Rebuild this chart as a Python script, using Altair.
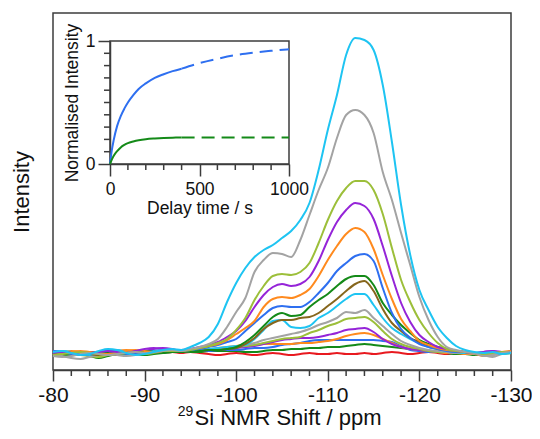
import altair as alt
import pandas as pd

# ---------------- data ----------------
ppm = list(range(-80, -131, -1))  # 51 points, -80 ... -130 ppm

s01 = [-1, -2, -1, 0, 1, 0, -1, -2, -1, 0, 1, 0, 0, 1,
       0, 1, 0, -1, -2, -1, 0, -1, -2, -1, 0, -1, -2, -1, 0, -1, -1, 0, -1, -1, 0, -1, 0, 1, 0, -1, 0, 1, 0, -1, 0, 0, -1,
       0, -1, 0, 1]
s02 = [-2, -3, -2, -1, -3, -5, -3, -1, 0, -1, -2, -1, 0, 1,
       1, 1, 1, 2, 2, 2, 2, 1, 1, 2, 3, 3, 4, 4, 5, 5, 6, 6, 7, 8, 9, 8, 7, 6, 5, 4, 3, 2, 1, 0, -1, -1, -2,
       -2, -1, 0, 1]
s03 = [1, 0, -1, -2, -1, 0, 1, 0, -1, 0, 1, 2, 1, 1,
       1, 2, 2, 2, 3, 3, 3, 4, 5, 5, 6, 8, 9, 10, 12, 13, 13, 13, 13, 13, 13, 13, 12, 11, 7, 3, 2, 1, 1, 0, 0, 0, -1,
       -1, 0, 1, 0]
s04 = [0, 1, 2, 1, 0, -1, 0, 2, 3, 2, 0, 1, 3, 2,
       2, 3, 4, 4, 5, 6, 7, 8, 8, 9, 9, 9, 9, 10, 10, 11, 12, 14, 17, 19, 20, 18, 14, 10, 6, 4, 3, 2, 1, 0, 0, -1, -1,
       -3, -2, 0, 1]
s05 = [2, 1, 0, -1, -2, -1, 0, 1, 0, 1, 2, 4, 5, 4,
       2, 2, 3, 3, 3, 4, 5, 6, 7, 9, 11, 13, 14, 15, 15, 16, 18, 20, 23, 24, 25, 21, 14, 9, 6, 4, 3, 2, 1, 1, 0, 0, 0,
       1, 2, 1, 0]
s06 = [-3, -2, -1, -2, -3, -4, -2, 0, 1, 0, -1, 0, 1, 2,
       2, 2, 3, 3, 4, 5, 6, 7, 8, 10, 12, 14, 15, 16, 20, 23, 27, 30, 34, 35, 36, 31, 22, 14, 9, 6, 4, 2, 1, 1, 0, 0, 0,
       0, -1, -1, 0]
s07 = [-1, -3, -5, -6, -4, -2, -1, -2, -3, -2, 0, 1, 0, 1,
       2, 2, 3, 3, 4, 5, 6, 8, 10, 13, 15, 17, 19, 21, 24, 28, 31, 35, 41, 40, 43, 35, 27, 19, 12, 8, 5, 3, 2, 1, 0, 0, -1,
       -2, -4, -1, 0]
s08 = [0, 2, 1, -1, -2, 0, 2, 3, 1, -1, 0, 2, 3, 2,
       2, 2, 3, 4, 5, 6, 7, 8, 14, 23, 32, 33, 26, 25, 27, 35, 40, 47, 54, 59, 59, 48, 35, 25, 19, 14, 10, 6, 4, 2, 1, 0, 0,
       1, 0, -1, 1]
s09 = [-1, 0, 1, 0, -1, -2, -1, 0, 1, 1, 0, 1, 2, 1,
       1, 2, 2, 3, 3, 4, 5, 9, 15, 24, 30, 33, 33, 35, 36, 40, 47, 54, 62, 69, 72, 62, 44, 30, 22, 15, 11, 7, 4, 3, 2, 1, 0,
       0, 1, 0, 2]
s10 = [0, -1, -2, -1, 0, 1, 0, -1, 0, 1, 2, 1, 0, 1,
       1, 2, 2, 3, 3, 4, 6, 11, 18, 27, 36, 40, 37, 38, 46, 53, 59, 67, 74, 77, 77, 68, 50, 38, 28, 20, 13, 9, 6, 4, 2, 1, 0,
       -1, 0, 1, 1]
s11 = [2, 1, -1, -2, -1, 1, 2, 1, 0, -1, 0, 1, 2, 2,
       2, 3, 4, 6, 8, 11, 14, 22, 30, 38, 45, 47, 46, 46, 51, 60, 70, 82, 90, 97, 99, 92, 65, 40, 24, 15, 9, 6, 4, 2, 1, 1, 0,
       0, -1, 0, 1]
s12 = [1, 0, 1, 2, 1, 0, -1, 0, 2, 3, 2, 1, 2, 3,
       3, 4, 5, 7, 9, 13, 19, 25, 32, 46, 54, 56, 55, 58, 64, 77, 93, 107, 119, 125, 121, 104, 78, 54, 34, 22, 12, 8, 5, 3, 2, 1, 0,
       -2, -1, 1, 2]
s13 = [0, 1, 0, -1, 0, 1, 2, 1, 0, 2, 4, 5, 4, 3,
       3, 4, 6, 8, 11, 16, 22, 32, 46, 58, 66, 69, 67, 69, 76, 92, 113, 131, 143, 150, 147, 134, 107, 77, 50, 31, 18, 11, 6, 4, 2, 1, 0,
       1, 2, 0, 1]
s14 = [-2, -1, 0, 1, 0, -1, -2, -1, 0, 1, 0, 1, 2, 2,
       2, 3, 5, 7, 10, 14, 23, 35, 53, 67, 77, 79, 78, 81, 90, 110, 133, 152, 165, 172, 172, 163, 139, 105, 73, 51, 33, 20, 10, 4, 2, 1, 0,
       -1, 0, 1, 0]
s15 = [-3, -4, -3, -1, 0, -1, -2, -1, 0, 1, 0, 1, 2, 3,
       2, 4, 6, 9, 14, 26, 41, 55, 81, 93, 100, 99, 96, 113, 138, 163, 185, 215, 238, 243, 238, 220, 181, 153, 120, 88, 56, 33, 16, 6, 3, 1, 0,
       -3, -2, 0, 1]
s16 = [1, 2, 0, -2, -1, 2, 4, 3, 0, -2, -1, 1, 3, 4,
       3, 6, 10, 16, 29, 51, 70, 85, 96, 103, 108, 115, 122, 133, 150, 183, 223, 258, 298, 315, 313, 303, 268, 211, 148, 98, 63, 43, 26, 15, 7, 3, 1,
       0, 1, -1, 0]

series_names = ["s01", "s02", "s03", "s04", "s05", "s06", "s07", "s08",
                "s09", "s10", "s11", "s12", "s13", "s14", "s15", "s16"]
series_values = [s01, s02, s03, s04, s05, s06, s07, s08,
                 s09, s10, s11, s12, s13, s14, s15, s16]
series_colors = ["#e8191f", "#148a18", "#2e6ff0", "#ff8a1e", "#9524d8", "#9cbf3a",
                 "#a3a3a3", "#1ec4f2", "#86661c", "#148a18", "#2e6ff0", "#ff8a1e",
                 "#9524d8", "#9cbf3a", "#a3a3a3", "#1ec4f2"]

major_ticks = [-80, -90, -100, -110, -120, -130]
minor_ticks = [-82, -84, -86, -88, -92, -94, -96, -98, -102, -104, -106, -108,
               -112, -114, -116, -118, -122, -124, -126, -128]

# inset: normalised intensity vs delay time
t_solid = [0, 10, 20, 40, 60, 80, 100, 130, 160, 200, 250, 300, 350, 400]
blue_solid = [0, 0.11, 0.19, 0.31, 0.39, 0.45, 0.50, 0.56, 0.61, 0.655, 0.70, 0.73, 0.755, 0.775]
green_solid = [0, 0.035, 0.065, 0.105, 0.135, 0.155, 0.17, 0.183, 0.193, 0.202, 0.208, 0.212, 0.214, 0.215]
t_dash = [400, 500, 600, 700, 800, 900, 1000]
blue_dash = [0.775, 0.82, 0.855, 0.885, 0.905, 0.92, 0.933]
green_dash = [0.215, 0.215, 0.215, 0.215, 0.215, 0.215, 0.215]
inset_major_x = [0, 500, 1000]
inset_minor_x = [100, 200, 300, 400, 600, 700, 800, 900]
inset_major_y = [0, 1]
inset_minor_y = [0.1, 0.2, 0.3, 0.4, 0.5, 0.6, 0.7, 0.8, 0.9]
inset_frame = {"t": [0], "t2": [1000], "v": [0], "v2": [1]}

x_title_sup = "29"
x_title_main = "Si NMR Shift / ppm"
y_title = "Intensity"

# ---------------- layout constants ----------------
W, H = 458, 357
AX = "#3c3c3c"
TXT = "#111111"
FONT = "Liberation Sans"
IX0, IX1 = 57, 236      # inset x pixel range inside the plot
IY0, IY1 = 151, 28      # inset y pixel range inside the plot

rows = []
for i, (name, vals) in enumerate(zip(series_names, series_values)):
    assert len(vals) == len(ppm), name
    for p, v in zip(ppm, vals):
        rows.append({"ppm": p, "intensity": v, "series": name, "k": i})
spec_df = pd.DataFrame(rows)

x_scale = alt.Scale(domain=[-130, -80], reverse=True, nice=False, zero=False)
y_scale = alt.Scale(domain=[-17, 340], nice=False, zero=False)
x_axis = alt.Axis(orient="bottom", values=major_ticks, tickSize=11, tickWidth=1.5, tickColor=AX,
                  domainColor=AX, domainWidth=1.5, labelFontSize=21, labelColor=TXT,
                  labelPadding=3, labelFlush=False, labelExpr="toString(datum.value)",
                  title=None, grid=False)
y_axis = alt.Axis(orient="left", labels=False, ticks=False, domain=False, grid=False,
                  title=y_title, titleFontSize=22, titleFontWeight="normal", titleColor=TXT,
                  titlePadding=20)

spectra = alt.Chart(spec_df).mark_line(strokeWidth=2, interpolate="monotone").encode(
    x=alt.X("ppm:Q", scale=x_scale, axis=x_axis),
    y=alt.Y("intensity:Q", scale=y_scale, axis=y_axis),
    color=alt.Color("series:N", scale=alt.Scale(domain=series_names, range=series_colors), legend=None),
    order=alt.Order("k:Q"),
)

minor_main = alt.Chart(pd.DataFrame({"ppm": minor_ticks})).mark_rule(color=AX, strokeWidth=1.5).encode(
    x=alt.X("ppm:Q", scale=x_scale, axis=x_axis),
    y=alt.value(H), y2=alt.value(H + 6),
)

title_sup = alt.Chart(pd.DataFrame({"s": [x_title_sup]})).mark_text(
    fontSize=14, font=FONT, color=TXT, align="right", baseline="alphabetic").encode(
    text="s:N", x=alt.value(140.3), y=alt.value(403.2))
title_main = alt.Chart(pd.DataFrame({"s": [x_title_main]})).mark_text(
    fontSize=22, font=FONT, color=TXT, align="left", baseline="alphabetic").encode(
    text="s:N", x=alt.value(141.5), y=alt.value(412))

main_layer = alt.layer(spectra, minor_main, title_sup, title_main)

# ---------------- inset ----------------
ix_scale = alt.Scale(domain=[0, 1000], range=[IX0, IX1], nice=False, zero=False)
iy_scale = alt.Scale(domain=[0, 1], range=[IY0, IY1], nice=False, zero=False)
ix_axis = alt.Axis(orient="bottom", offset=IY0 - H, values=inset_major_x, format="d", tickSize=12,
                   tickWidth=1.5, tickColor=AX, domainColor=AX, domainWidth=1.5,
                   labelFontSize=17.5, labelColor=TXT, labelPadding=4, labelFlush=False, grid=False,
                   title="Delay time / s", titleFontSize=17.5, titleFontWeight="normal",
                   titleColor=TXT, titlePadding=2)
iy_axis = alt.Axis(orient="left", offset=-IX0, values=inset_major_y, format="d", tickSize=12,
                   tickWidth=1.5, tickColor=AX, domainColor=AX, domainWidth=1.5,
                   labelFontSize=17.5, labelColor=TXT, labelPadding=3, labelFlush=False, grid=False,
                   title="Normalised Intensity", titleFontSize=17.5, titleFontWeight="normal",
                   titleColor=TXT, titlePadding=4)

def inset_line(ts, vs, color, dash=None):
    df = pd.DataFrame({"t": ts, "v": vs})
    kw = dict(strokeWidth=2, color=color, interpolate="monotone")
    if dash is not None:
        kw["strokeDash"] = dash
    return alt.Chart(df).mark_line(**kw).encode(
        x=alt.X("t:Q", scale=ix_scale, axis=ix_axis),
        y=alt.Y("v:Q", scale=iy_scale, axis=iy_axis),
    )

frame = alt.Chart(pd.DataFrame(inset_frame)).mark_rect(
    filled=False, stroke=AX, strokeWidth=1.5).encode(
    x=alt.X("t:Q", scale=ix_scale, axis=ix_axis), x2="t2:Q",
    y=alt.Y("v:Q", scale=iy_scale, axis=iy_axis), y2="v2:Q",
)
minor_ix = alt.Chart(pd.DataFrame({"t": inset_minor_x})).mark_rule(color=AX, strokeWidth=1.5).encode(
    x=alt.X("t:Q", scale=ix_scale, axis=ix_axis), y=alt.value(IY0), y2=alt.value(IY0 + 6))
minor_iy = alt.Chart(pd.DataFrame({"v": inset_minor_y})).mark_rule(color=AX, strokeWidth=1.5).encode(
    y=alt.Y("v:Q", scale=iy_scale, axis=iy_axis), x=alt.value(IX0 - 6), x2=alt.value(IX0))

inset_layer = alt.layer(
    frame, minor_ix, minor_iy,
    inset_line(t_solid, blue_solid, "#2e6ff0"),
    inset_line(t_dash, blue_dash, "#2e6ff0", [13, 7]),
    inset_line(t_solid, green_solid, "#148a18"),
    inset_line(t_dash, green_dash, "#148a18", [13, 7]),
)

chart = alt.layer(main_layer, inset_layer).resolve_scale(
    x="independent", y="independent").resolve_axis(x="independent", y="independent").properties(
    width=W, height=H,
    autosize=alt.AutoSizeParams(type="none"),
    padding={"left": 45, "top": 5, "right": 21, "bottom": 60},
).configure_view(stroke=AX, strokeWidth=1.5).configure_axis(
    labelFont=FONT, titleFont=FONT).configure_text(font=FONT)

chart.save("out.html", embed_options={"renderer": "svg", "actions": False})
